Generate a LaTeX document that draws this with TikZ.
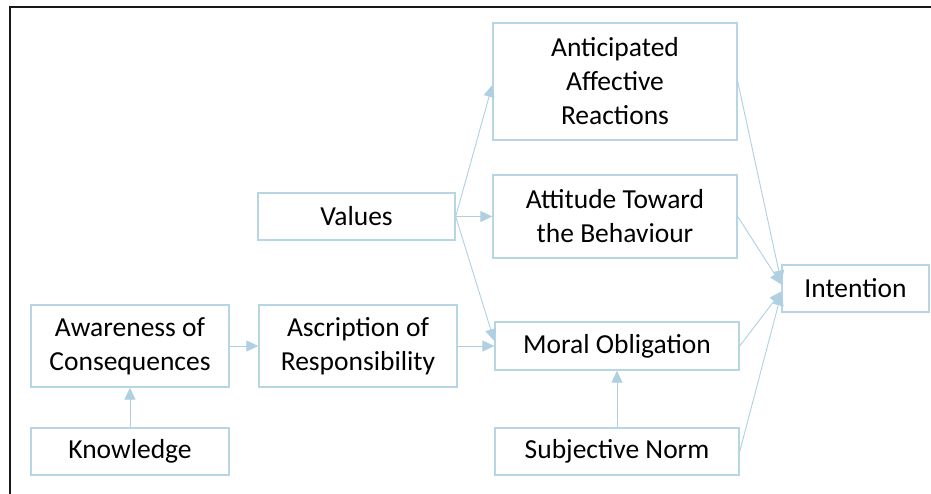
\documentclass[tikz,border=0pt]{standalone}
\usepackage{fontspec}
\setmainfont{Carlito}
\usetikzlibrary{arrows.meta}
\definecolor{boxc}{RGB}{182,213,229}
\definecolor{arrc}{RGB}{175,208,225}
\begin{document}
\begin{tikzpicture}[x=1pt,y=-1pt,
  box/.style={draw=boxc,line width=1.4pt,inner sep=0pt,align=center,
    font=\fontsize{27.5}{34}\selectfont},
  conn/.style={draw=arrc,line width=0.9pt,-{Triangle[length=12pt,width=11pt]}}]
\useasboundingbox (0,0) rectangle (931,493);
\draw[line width=2pt,color=black!90] (10,495) -- (10,6.5) -- (935,6.5);
\node[box,minimum width=244pt,minimum height=117pt] (AAR) at (615,81.5) {Anticipated\\Affective\\Reactions};
\node[box,minimum width=244pt,minimum height=83pt] (ATB) at (615,216.5) {Attitude Toward\\the Behaviour};
\node[box,minimum width=197pt,minimum height=47pt] (Val) at (356.5,216.5) {Values};
\node[box,minimum width=244pt,minimum height=48pt] (MO) at (617,346) {Moral Obligation};
\node[box,minimum width=147pt,minimum height=47pt] (Int) at (855.5,288.5) {Intention};
\node[box,minimum width=244pt,minimum height=47pt] (SN) at (617,451.5) {Subjective Norm};
\node[box,minimum width=198pt,minimum height=47pt] (Kn) at (130,451.5) {Knowledge};
\node[box,minimum width=198pt,minimum height=82pt] (AoC) at (130,346) {Awareness of\\Consequences};
\node[box,minimum width=198pt,minimum height=82pt] (AoR) at (358,346) {Ascription of\\Responsibility};
\draw[conn] (Kn.north) -- (AoC.south);
\draw[conn] (AoC.east) -- (AoR.west);
\draw[conn] (AoR.east) -- (MO.west);
\draw[conn] (Val.east) -- ([yshift=-3.5pt]AAR.west);
\draw[conn] (Val.east) -- (ATB.west);
\draw[conn] (Val.east) -- ([yshift=5pt]MO.west);
\draw[conn] (SN.north) -- (MO.south);
\draw[conn] (AAR.east) -- ([yshift=6pt]Int.west);
\draw[conn] (ATB.east) -- ([yshift=4pt]Int.west);
\draw[conn] (MO.east) -- ([yshift=-3pt]Int.west);
\draw[conn] (SN.east) -- ([yshift=-5pt]Int.west);
\end{tikzpicture}
\end{document}
